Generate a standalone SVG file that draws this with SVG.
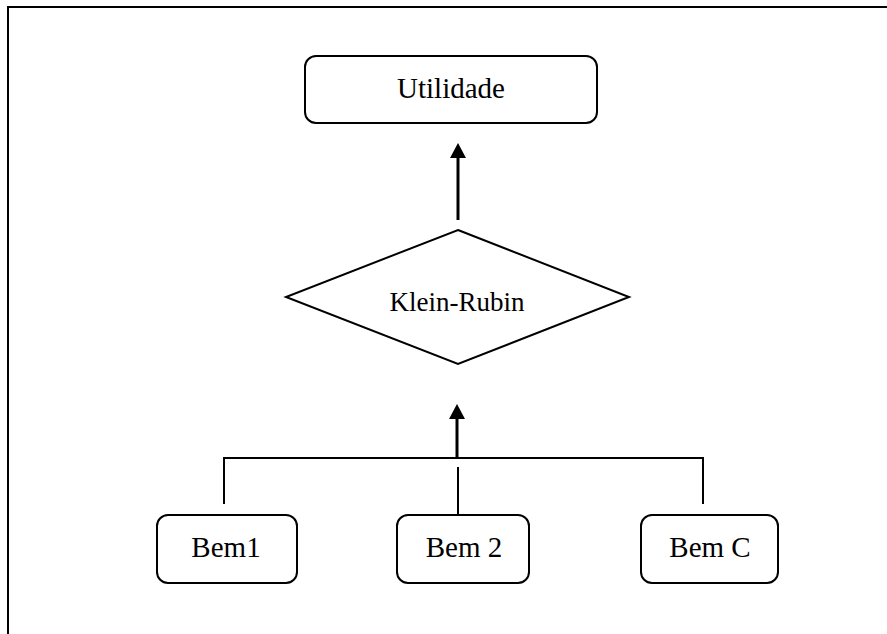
<svg xmlns="http://www.w3.org/2000/svg" width="887" height="634" viewBox="0 0 887 634">
<style>
.box{fill:#fff;stroke:#000;stroke-width:2}
.lbl{font-family:"Liberation Serif","Times New Roman",serif;font-size:29px;fill:#000;text-anchor:middle}
.ln{stroke:#000;stroke-width:2;fill:none}
.arr{stroke:#000;stroke-width:3;fill:none}
</style>
<rect width="887" height="634" fill="#fff"/>
<g id="frame">
<path d="M8,634 L8,7 L887,7" class="ln"/>
</g>
<g id="utilidade">
<rect class="box" x="305" y="56" width="292" height="67" rx="11"/>
<text class="lbl" x="451" y="98">Utilidade</text>
</g>
<g id="klein-rubin">
<polygon class="box" points="458,230 629,297 458,364 286,297"/>
<text class="lbl" x="457" y="311" style="font-size:27px">Klein-Rubin</text>
</g>
<g id="bem1">
<rect class="box" x="157" y="515" width="140" height="68" rx="11"/>
<text class="lbl" x="226" y="557">Bem1</text>
</g>
<g id="bem2">
<rect class="box" x="397" y="515" width="132" height="68" rx="11"/>
<text class="lbl" x="464" y="557">Bem 2</text>
</g>
<g id="bemC">
<rect class="box" x="641" y="515" width="137" height="68" rx="11"/>
<text class="lbl" x="710" y="557">Bem C</text>
</g>
<g id="connectors">
<path class="arr" d="M458,220 L458,158"/>
<path d="M450,158 L458,143 L466,158 Z" fill="#000"/>
<path class="arr" d="M457,458 L457,419"/>
<path d="M449,419 L457,404 L465,419 Z" fill="#000"/>
<path class="ln" d="M224,504 L224,458 L703,458 L703,504"/>
<path class="ln" d="M458,467 L458,515"/>
</g>
</svg>
